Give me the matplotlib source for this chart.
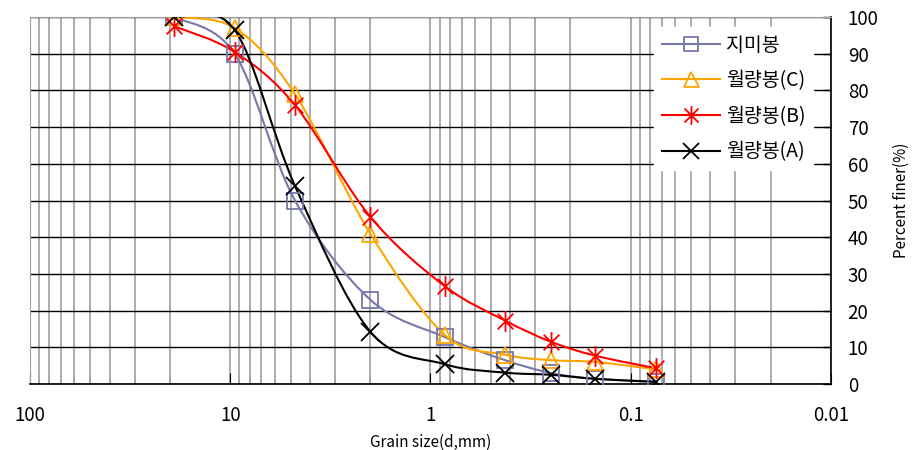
import numpy as np
import matplotlib
matplotlib.use("Agg")
import matplotlib.pyplot as plt
from matplotlib.path import Path
from matplotlib.patches import PathPatch
from matplotlib.lines import Line2D
from matplotlib.ticker import FixedLocator, LogLocator, NullFormatter

plt.rcParams['font.family'] = ['Noto Sans CJK KR', 'DejaVu Sans']

# sieve sizes (mm) and percent finer
sizes = [19, 9.5, 4.75, 2.0, 0.85, 0.425, 0.25, 0.15, 0.075]
jimibong = [100, 90, 50, 23, 12.8, 6.5, 3, 1.4, 0.6]
wolrang_c = [100, 97, 79, 41, 13.4, 8, 6.5, 6, 4]
wolrang_b = [97.5, 90.5, 76, 45.6, 26.7, 17.3, 11.5, 7.7, 4.3]
wolrang_a = [100, 96.5, 54, 14.3, 5.4, 3.1, 2.5, 1.4, 0.6]

labels = ['지미봉', '월량봉(C)', '월량봉(B)', '월량봉(A)']
colors = ['#7777AA', '#FFA500', '#FF0000', '#000000']
series = [jimibong, wolrang_c, wolrang_b, wolrang_a]

# asterisk marker: vertical bar + X
star = Path([(0, -1), (0, 1), (-0.75, -0.75), (0.75, 0.75), (-0.75, 0.75), (0.75, -0.75)],
            [Path.MOVETO, Path.LINETO, Path.MOVETO, Path.LINETO, Path.MOVETO, Path.LINETO])
markers = ['s', '^', star, 'x']
msizes = [11, 12, 15, 13]


def smooth_path(x, y):
    # Excel-like smoothed line: Catmull-Rom as cubic Bezier in log-x space
    lx = np.log10(x)
    p = np.column_stack([lx, y])
    n = len(p)
    verts = [p[0]]
    codes = [Path.MOVETO]
    for i in range(n - 1):
        p0 = p[i - 1] if i > 0 else p[i]
        p3 = p[i + 2] if i + 2 < n else p[i + 1]
        c1 = p[i] + (p[i + 1] - p0) / 6
        c2 = p[i + 1] - (p3 - p[i]) / 6
        verts += [c1, c2, p[i + 1]]
        codes += [Path.CURVE4] * 3
    verts = np.array(verts)
    verts[:, 0] = 10 ** verts[:, 0]
    return Path(verts, codes)


fig = plt.figure(figsize=(9.17, 4.5), dpi=100)
ax = fig.add_axes([0.0327, 0.1467, 0.8735, 0.8153])

ax.set_xscale('log')
ax.set_xlim(100, 0.01)
ax.set_ylim(0, 100)

for vals, col, mk, ms, lab in zip(series, colors, markers, msizes, labels):
    patch = PathPatch(smooth_path(sizes, vals), facecolor='none', edgecolor=col,
                      lw=1.5, zorder=3)
    ax.add_patch(patch)
    ax.plot(sizes, vals, linestyle='none', marker=mk, markersize=ms,
            markerfacecolor='none', markeredgecolor=col, markeredgewidth=1.3,
            zorder=4)

# grid
ax.xaxis.set_major_locator(FixedLocator([100, 10, 1, 0.1, 0.01]))
ax.xaxis.set_minor_locator(LogLocator(base=10, subs=np.arange(2, 10), numticks=20))
ax.xaxis.set_minor_formatter(NullFormatter())
ax.set_xticklabels(['100', '10', '1', '0.1', '0.01'])
ax.grid(True, which='both', axis='x', color='#A0A0A0', lw=1.2)
ax.set_yticks(np.arange(0, 101, 10))
ax.grid(True, which='major', axis='y', color='black', lw=1)
ax.set_axisbelow(True)

ax.yaxis.tick_right()
ax.yaxis.set_label_position('right')
ax.tick_params(axis='y', direction='in', length=6, width=1, labelsize=13.5, pad=12)
ax.tick_params(axis='x', which='major', direction='in', length=8, labelsize=13.5, pad=15)
ax.tick_params(axis='x', which='minor', direction='in', length=5, color='#A0A0A0')

for s in ['left', 'top']:
    ax.spines[s].set_color('#A0A0A0')
for s in ['right', 'bottom']:
    ax.spines[s].set_color('black')
    ax.spines[s].set_linewidth(1.2)

ax.set_xlabel('Grain size(d,mm)', fontsize=11, labelpad=6)
ax.set_ylabel('Percent finer(%)', fontsize=11, labelpad=10)

handles = [Line2D([0], [0], color=c, lw=1.5, marker=m, markersize=s * 0.9,
                  markerfacecolor='none', markeredgecolor=c, markeredgewidth=1.3)
           for c, m, s in zip(colors, markers, msizes)]
leg = ax.legend(handles, labels, loc='upper right', bbox_to_anchor=(0.99, 1.0),
                fontsize=14, frameon=True, fancybox=False, edgecolor='white',
                framealpha=1, labelspacing=0.75, handlelength=3.0, handletextpad=0.3,
                borderpad=0.4)
leg.set_zorder(5)

fig.savefig('out.png', dpi=100)
